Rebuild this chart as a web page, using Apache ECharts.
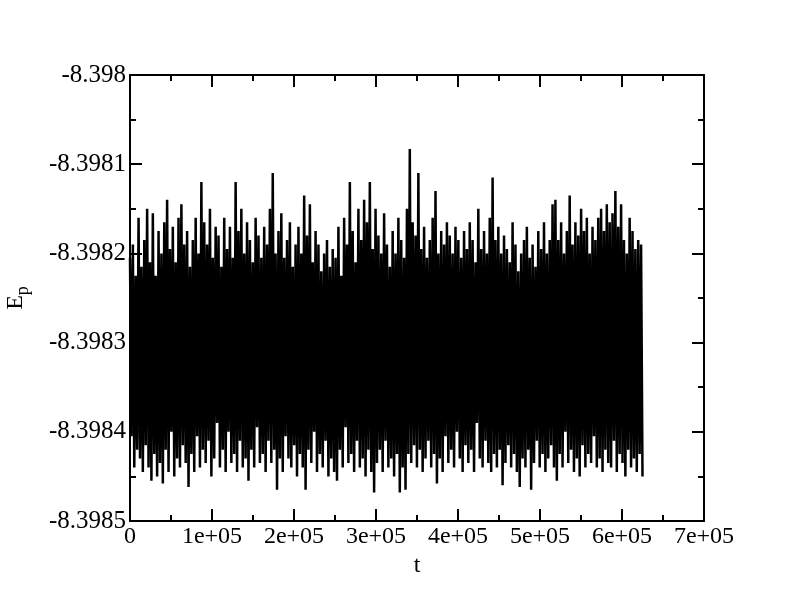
<!DOCTYPE html>
<html>
<head>
<meta charset="utf-8">
<script src="https://cdn.jsdelivr.net/npm/echarts@6/dist/echarts.min.js"></script>
<style>html,body{margin:0;padding:0;background:#fff}#c{width:792px;height:612px}</style>
</head>
<body>
<div id="c"></div>
<script>
// Time span of the record (t from 0 to tEnd, evenly sampled)
const tStart = 0;
const tEnd = 625000;
// Potential energy: alternating upper / lower excursions
const epHigh = [
-8.398205,-8.398190,-8.398225,-8.398160,-8.398215,-8.398185,-8.398150,-8.398210,-8.398155,-8.398225,
-8.398175,-8.398200,-8.398165,-8.398140,-8.398195,-8.398170,-8.398210,-8.398160,-8.398145,-8.398190,
-8.398175,-8.398215,-8.398185,-8.398160,-8.398200,-8.398120,-8.398165,-8.398190,-8.398150,-8.398205,
-8.398170,-8.398180,-8.398215,-8.398160,-8.398195,-8.398170,-8.398205,-8.398120,-8.398175,-8.398150,
-8.398200,-8.398165,-8.398185,-8.398210,-8.398160,-8.398180,-8.398205,-8.398170,-8.398190,-8.398150,
-8.398110,-8.398200,-8.398175,-8.398155,-8.398205,-8.398185,-8.398165,-8.398215,-8.398190,-8.398170,
-8.398200,-8.398135,-8.398180,-8.398145,-8.398210,-8.398175,-8.398190,-8.398220,-8.398200,-8.398185,
-8.398215,-8.398195,-8.398205,-8.398170,-8.398225,-8.398160,-8.398190,-8.398120,-8.398175,-8.398210,
-8.398150,-8.398185,-8.398140,-8.398165,-8.398120,-8.398195,-8.398150,-8.398180,-8.398200,-8.398155,
-8.398190,-8.398215,-8.398175,-8.398200,-8.398160,-8.398185,-8.398205,-8.398150,-8.398083,-8.398165,
-8.398180,-8.398110,-8.398195,-8.398170,-8.398205,-8.398185,-8.398160,-8.398130,-8.398200,-8.398175,
-8.398190,-8.398165,-8.398180,-8.398200,-8.398170,-8.398185,-8.398205,-8.398175,-8.398195,-8.398165,
-8.398185,-8.398210,-8.398150,-8.398195,-8.398175,-8.398200,-8.398160,-8.398115,-8.398185,-8.398170,
-8.398200,-8.398180,-8.398195,-8.398210,-8.398165,-8.398190,-8.398220,-8.398200,-8.398185,-8.398170,
-8.398205,-8.398190,-8.398215,-8.398175,-8.398195,-8.398165,-8.398200,-8.398185,-8.398145,-8.398140,
-8.398185,-8.398165,-8.398200,-8.398175,-8.398135,-8.398190,-8.398165,-8.398180,-8.398150,-8.398175,
-8.398160,-8.398200,-8.398170,-8.398185,-8.398160,-8.398150,-8.398175,-8.398145,-8.398165,-8.398155,
-8.398130,-8.398170,-8.398145,-8.398185,-8.398200,-8.398160,-8.398175,-8.398195,-8.398185,-8.398190
];
const epLow = [
-8.398405,-8.398440,-8.398420,-8.398430,-8.398445,-8.398415,-8.398440,-8.398455,-8.398425,-8.398450,
-8.398435,-8.398458,-8.398420,-8.398445,-8.398400,-8.398450,-8.398430,-8.398440,-8.398415,-8.398435,
-8.398462,-8.398425,-8.398445,-8.398405,-8.398440,-8.398420,-8.398435,-8.398410,-8.398450,-8.398430,
-8.398390,-8.398440,-8.398420,-8.398445,-8.398400,-8.398435,-8.398425,-8.398445,-8.398410,-8.398440,
-8.398430,-8.398455,-8.398420,-8.398440,-8.398395,-8.398435,-8.398425,-8.398445,-8.398410,-8.398435,
-8.398420,-8.398465,-8.398430,-8.398445,-8.398405,-8.398430,-8.398440,-8.398415,-8.398450,-8.398425,
-8.398440,-8.398465,-8.398420,-8.398435,-8.398400,-8.398445,-8.398425,-8.398440,-8.398410,-8.398450,
-8.398430,-8.398445,-8.398455,-8.398420,-8.398440,-8.398395,-8.398435,-8.398425,-8.398445,-8.398410,
-8.398440,-8.398430,-8.398450,-8.398420,-8.398445,-8.398468,-8.398435,-8.398420,-8.398445,-8.398410,
-8.398440,-8.398430,-8.398450,-8.398425,-8.398468,-8.398440,-8.398465,-8.398425,-8.398435,-8.398415,
-8.398440,-8.398420,-8.398445,-8.398430,-8.398410,-8.398440,-8.398425,-8.398458,-8.398430,-8.398445,
-8.398405,-8.398435,-8.398420,-8.398440,-8.398400,-8.398430,-8.398445,-8.398415,-8.398435,-8.398420,
-8.398445,-8.398390,-8.398430,-8.398440,-8.398410,-8.398435,-8.398445,-8.398425,-8.398440,-8.398420,
-8.398460,-8.398435,-8.398415,-8.398440,-8.398425,-8.398445,-8.398462,-8.398430,-8.398440,-8.398420,
-8.398465,-8.398435,-8.398410,-8.398440,-8.398425,-8.398445,-8.398430,-8.398415,-8.398440,-8.398455,
-8.398425,-8.398440,-8.398400,-8.398435,-8.398420,-8.398445,-8.398430,-8.398450,-8.398415,-8.398440,
-8.398425,-8.398435,-8.398405,-8.398440,-8.398430,-8.398445,-8.398420,-8.398435,-8.398440,-8.398410,
-8.398445,-8.398425,-8.398435,-8.398450,-8.398420,-8.398440,-8.398430,-8.398445,-8.398425,-8.398450
];
// Axis settings
const xMin = 0, xMax = 700000, xStep = 100000;
const yMin = -8.3985, yMax = -8.398, yStep = 0.0001;
const xTitle = 't';

const n = epHigh.length * 2;
const dt = (tEnd - tStart) / (n - 1);
const seriesData = [];
for (let i = 0; i < epHigh.length; i++) {
  seriesData.push([tStart + (2 * i) * dt, epHigh[i]]);
  seriesData.push([tStart + (2 * i + 1) * dt, epLow[i]]);
}

const font = 'Liberation Serif, Times New Roman, serif';
const axisCommon = {
  type: 'value',
  axisLine: { show: true, onZero: false, lineStyle: { color: '#000', width: 2 } },
  axisTick: { show: true, inside: true, length: 12, lineStyle: { color: '#000', width: 2 } },
  minorTick: { show: true, splitNumber: 2, length: 6, lineStyle: { color: '#000', width: 2 } },
  splitLine: { show: false },
  minorSplitLine: { show: false }
};
const chart = echarts.init(document.getElementById('c'), null, { renderer: 'canvas' });
chart.setOption({
  animation: false,
  backgroundColor: '#fff',
  grid: { left: 130, right: 88, top: 75, bottom: 91, containLabel: false, outerBoundsMode: 'none' },
  xAxis: [
    Object.assign({}, axisCommon, {
      position: 'bottom', min: xMin, max: xMax, interval: xStep,
      name: xTitle, nameLocation: 'middle', nameGap: 24,
      nameTextStyle: { fontFamily: font, fontSize: 24, color: '#000' },
      axisLabel: { show: true, color: '#000', fontFamily: font, fontSize: 24, margin: 4,
        formatter: v => v === 0 ? '0' : (Math.round(v / 1e5)) + 'e+05' }
    }),
    Object.assign({}, axisCommon, {
      position: 'top', min: xMin, max: xMax, interval: xStep,
      axisLabel: { show: false }
    })
  ],
  yAxis: [
    Object.assign({}, axisCommon, {
      position: 'left', min: yMin, max: yMax, interval: yStep,
      name: '{e|E}{p|p}', nameLocation: 'middle', nameGap: 98, nameRotate: 90,
      nameTextStyle: { color: '#000', rich: {
        e: { fontFamily: font, fontSize: 24, color: '#000' },
        p: { fontFamily: font, fontSize: 18, color: '#000', verticalAlign: 'bottom', padding: [14, 0, 0, 0] }
      } },
      axisLabel: { show: true, color: '#000', fontFamily: font, fontSize: 25, margin: 4,
        formatter: v => parseFloat(v.toFixed(4)).toString() }
    }),
    Object.assign({}, axisCommon, {
      position: 'right', min: yMin, max: yMax, interval: yStep,
      axisLabel: { show: false }
    })
  ],
  series: [{
    type: 'line',
    xAxisIndex: 0, yAxisIndex: 0,
    data: seriesData,
    showSymbol: false,
    symbol: 'none',
    lineStyle: { color: '#000', width: 2.5 },
    silent: true
  }]
});
</script>
</body>
</html>
